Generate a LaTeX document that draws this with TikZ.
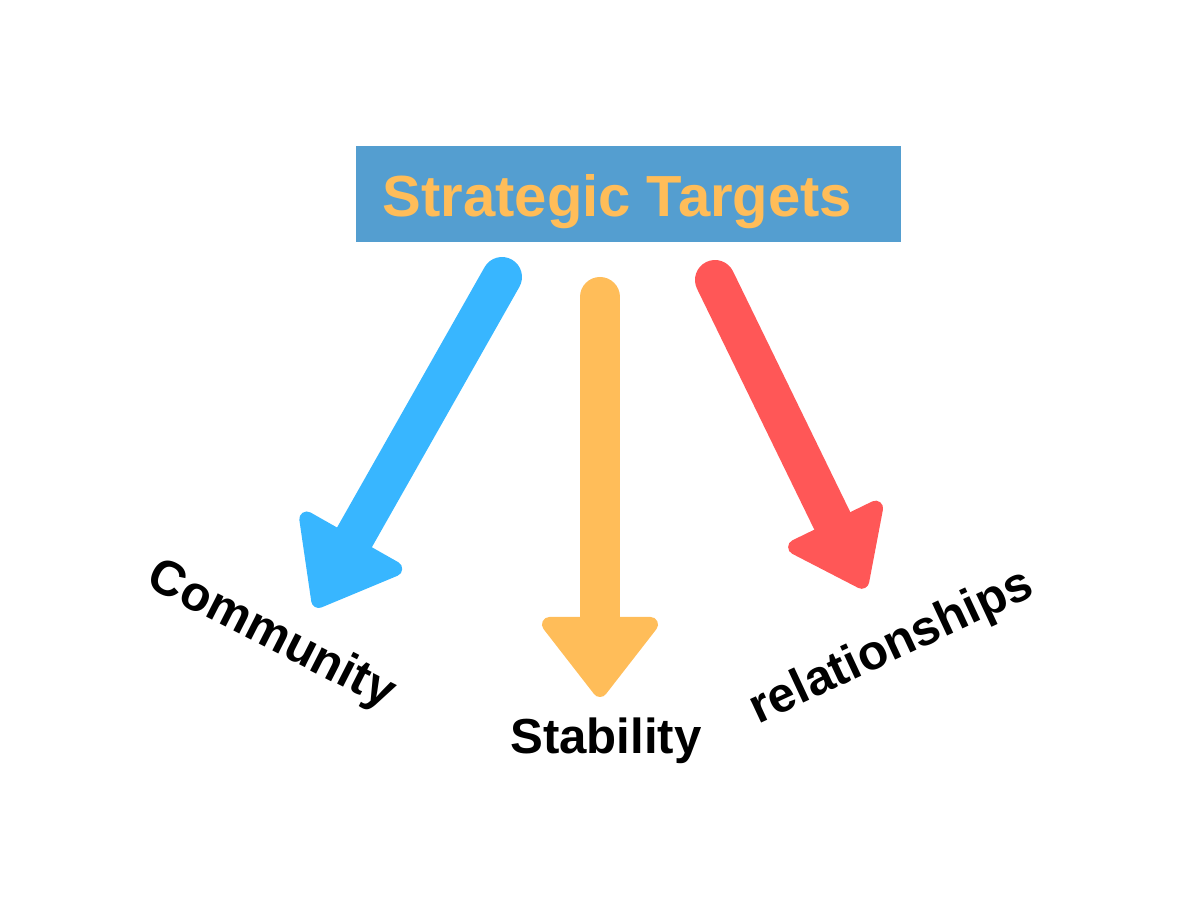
\documentclass[tikz,border=0pt]{standalone}
\usepackage{fontspec}
\setmainfont{Liberation Sans}
\usepackage{xcolor}
\usepackage{tikz}
\usetikzlibrary{arrows.meta,positioning}

\definecolor{boxblue}{RGB}{84,158,208}
\definecolor{skyblue}{RGB}{56,182,255}
\definecolor{softorange}{RGB}{255,189,89}
\definecolor{softred}{RGB}{255,87,87}

\begin{document}
\begin{tikzpicture}[
  line cap=round,
  line join=round,
  titlebox/.style={fill=boxblue,minimum width=5.45cm,minimum height=0.96cm,
    inner sep=0pt,text height=0.565cm,text depth=0.12cm,
    font=\fontsize{16.5}{20}\selectfont\bfseries,text=softorange},
  targetlabel/.style={font=\fontsize{14}{17}\selectfont\bfseries,text=black},
  bigarrow/.style={line width=4mm,
    -{Triangle[length=8.5mm,width=12.8mm,line width=1.5mm,round]}}
]
\path[use as bounding box] (0,0) rectangle (12,9);

\node[titlebox] (targets) at (6.285,7.06) {\hspace*{-0.22cm}Strategic Targets};

\coordinate (blueA) at (5.02,6.23);
\coordinate (blueB) at (3.15,2.93);
\coordinate (orangeA) at (6.00,6.03);
\coordinate (orangeB) at (6.00,2.03);
\coordinate (redA) at (7.15,6.20);
\coordinate (redB) at (8.65,3.12);

\draw[bigarrow,skyblue] (blueA) -- (blueB);
\draw[bigarrow,softorange] (orangeA) -- (orangeB);
\draw[bigarrow,softred,-{Triangle[length=8mm,width=11.5mm,line width=1.5mm,round]}]
  (redA) -- (redB);

\node[targetlabel,rotate=-27] (community) at (2.71,2.64) {Community};
\node[targetlabel] (stability) at (6.06,1.59) {Stability};
\node[targetlabel,rotate=25] (relations) at (8.92,2.52) {relationships};
\end{tikzpicture}
\end{document}
